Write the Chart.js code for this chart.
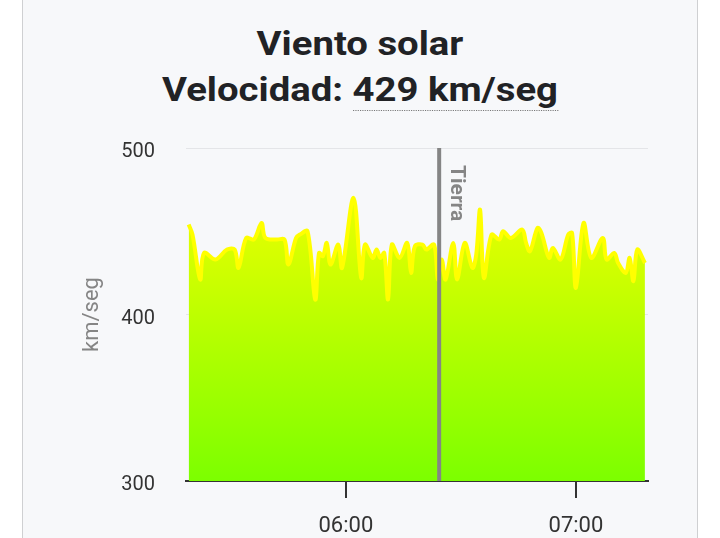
<!DOCTYPE html>
<html>
<head>
<meta charset="utf-8">
<script src="https://cdn.jsdelivr.net/npm/chart.js@4"></script>
<style>
  html, body { margin: 0; padding: 0; background: #ffffff; }
  #page { position: relative; width: 720px; height: 538px; overflow: hidden; }
  #panel {
    position: absolute; left: 22px; top: 0; width: 674px; height: 538px;
    background: #f7f8fa;
    border-left: 1px solid #cfd0d2; border-right: 1px solid #cfd0d2;
  }
  #title {
    position: absolute; left: 22px; top: 21px; width: 676px;
    text-align: center; font: bold 33px Roboto, sans-serif; line-height: 46px;
    color: #212225;
    transform: scaleX(1.16); transform-origin: 338px 0;
  }
  #title .val { border-bottom: 1px dotted #777; padding-bottom: 1px; }
  #chart { position: absolute; left: 0; top: 0; }
</style>
</head>
<body>
<div id="page">
  <div id="panel"></div>
  <div id="title">Viento solar<br>Velocidad: <span class="val">429 km/seg</span></div>
  <canvas id="chart" width="720" height="538"></canvas>
</div>
<script>
// ------------------------------------------------------------------
// Data
// ------------------------------------------------------------------

const times = [
  "05:19", "05:20", "05:22", "05:23", "05:26", "05:29", "05:31", "05:32", "05:34", "05:36",
  "05:38", "05:39", "05:42", "05:44", "05:45", "05:47", "05:48", "05:50", "05:52", "05:53",
  "05:54", "05:55", "05:56", "05:58", "05:59", "06:02", "06:04", "06:05", "06:07", "06:08",
  "06:09", "06:10", "06:11", "06:12", "06:14", "06:16", "06:17", "06:18", "06:20", "06:21",
  "06:23", "06:24", "06:25", "06:26", "06:28", "06:29", "06:31", "06:33", "06:34", "06:35",
  "06:36", "06:38", "06:40", "06:41", "06:43", "06:46", "06:47", "06:48", "06:50", "06:51",
  "06:53", "06:54", "06:56", "06:58", "06:59", "07:00", "07:02", "07:04", "07:07", "07:08",
  "07:10", "07:11", "07:13", "07:14", "07:15", "07:16", "07:18",
];

const speeds = [
  454, 448, 421, 437, 433, 439, 439, 428, 446, 445,
  455, 446, 445, 445, 430, 446, 448, 450, 409, 437,
  435, 443, 430, 442, 428, 470, 422, 442, 434, 439,
  434, 437, 409, 442, 434, 443, 425, 441, 442, 439,
  442, 421, 433, 421, 443, 421, 443, 428, 436, 463,
  422, 448, 445, 450, 446, 451, 443, 438, 452, 449,
  434, 440, 433, 448, 449, 416, 455, 434, 446, 433,
  437, 431, 425, 434, 420, 439, 431,
];

const xTickTimes = ["06:00", "07:00"];
const yTicks = [300, 400, 500];
const xRange = ["05:18:18", "07:18:48"];
const earthTime = "06:24:20";
const earthLabel = "Tierra";

// ------------------------------------------------------------------
// Helpers
// ------------------------------------------------------------------

function toMin(t) {
  const [h, m, s] = t.split(":").map(Number);
  return h * 60 + m + (s || 0) / 60;
}

function fmtMin(v) {
  const h = Math.floor(v / 60), m = Math.round(v - h * 60);
  return String(h).padStart(2, "0") + ":" + String(m).padStart(2, "0");
}

const points = times.map((t, i) => ({ x: toMin(t), y: speeds[i] }));

// vertical "Tierra" marker line with rotated label
const earthLine = {
  id: "earthLine",
  afterDatasetsDraw(chart) {
    const { ctx, chartArea, scales } = chart;
    const x = scales.x.getPixelForValue(toMin(earthTime));
    ctx.save();
    ctx.strokeStyle = "#858585";
    ctx.lineWidth = 4;
    ctx.beginPath();
    ctx.moveTo(x, chartArea.top);
    ctx.lineTo(x, chartArea.bottom);
    ctx.stroke();
    ctx.translate(x + 7, chartArea.top + 17);
    ctx.rotate(Math.PI / 2);
    ctx.fillStyle = "#858585";
    ctx.font = "bold 21px Roboto, sans-serif";
    ctx.textAlign = "left";
    ctx.textBaseline = "bottom";
    ctx.fillText(earthLabel, 0, 0);
    ctx.restore();
  },
};

// ------------------------------------------------------------------
// Chart
// ------------------------------------------------------------------

new Chart(document.getElementById("chart"), {
  type: "line",
  data: {
    datasets: [{
      data: points,
      borderColor: "#ffff00",
      borderWidth: 4,
      borderJoinStyle: "round",
      pointRadius: 0,
      tension: 0.35,
      fill: "start",
      backgroundColor: (c) => {
        const area = c.chart.chartArea;
        if (!area) return "#a0ff00";
        const g = c.chart.ctx.createLinearGradient(0, area.top, 0, area.bottom);
        g.addColorStop(0, "#ffff00");
        g.addColorStop(1, "#7cff00");
        return g;
      },
    }],
  },
  options: {
    responsive: false,
    animation: false,
    layout: { padding: { left: 74, right: 72, top: 148, bottom: 0 } },
    plugins: { legend: { display: false }, tooltip: { enabled: false } },
    scales: {
      x: {
        type: "linear",
        min: toMin(xRange[0]),
        max: toMin(xRange[1]),
        afterBuildTicks: (axis) => { axis.ticks = xTickTimes.map(t => ({ value: toMin(t) })); },
        afterFit: (axis) => { axis.height = 57; },
        grid: {
          drawOnChartArea: false,
          drawTicks: true,
          tickLength: 17,
          tickColor: "#333",
          lineWidth: 2,
        },
        border: { display: true, color: "#333", width: 2 },
        ticks: {
          padding: 15,
          color: "#333",
          font: { family: "Roboto", size: 22 },
          maxRotation: 0,
          callback: (v) => fmtMin(v),
        },
      },
      y: {
        min: yTicks[0],
        max: yTicks[yTicks.length - 1],
        afterBuildTicks: (axis) => { axis.ticks = yTicks.map(v => ({ value: v })); },
        afterFit: (axis) => { axis.width = 186 - 74; },
        grid: { color: "#e4e5e8", lineWidth: 1, drawTicks: false },
        border: { display: false },
        ticks: {
          padding: 31,
          color: "#333",
          // empty first line nudges the label a few px below its grid line
          font: { family: "Roboto", size: 20, lineHeight: 0.4 },
          callback: (v) => ["", String(v)],
        },
        title: {
          display: true,
          text: "km/seg",
          color: "#858585",
          font: { family: "Roboto", size: 22 },
          padding: { top: 5, bottom: 0 },
        },
      },
    },
  },
  plugins: [earthLine],
});
</script>
</body>
</html>
